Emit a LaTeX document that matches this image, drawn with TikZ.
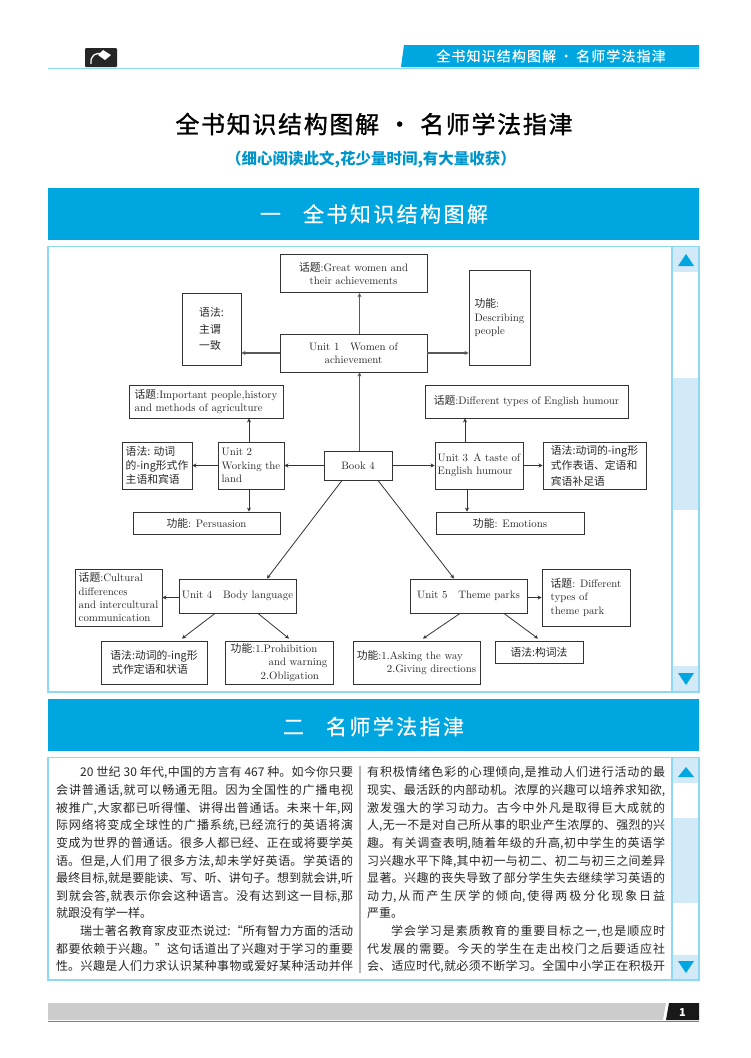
\documentclass[tikz,border=0pt]{standalone}
\usepackage{fontspec}
\usepackage{tikz}
\usetikzlibrary{arrows.meta,positioning}
\newfontfamily\zh{Noto Sans CJK SC}
\newfontfamily\zhhead[LetterSpace=8,FakeBold=0.3]{Noto Sans CJK SC}
\newfontfamily\zhbar[LetterSpace=11.5,FakeBold=0.4]{Noto Sans CJK SC}
\newfontfamily\zhtitle[LetterSpace=7,FakeBold=1.2]{Noto Sans CJK SC}
\newcommand{\zw}[1]{{\zh #1}}
\XeTeXlinebreaklocale "zh"
\XeTeXlinebreakskip=0pt plus 3pt minus 0.2pt
\definecolor{headblue}{HTML}{00A6E0}
\definecolor{rimblue}{HTML}{8FD8F4}
\definecolor{bandblue}{HTML}{D2E9F8}
\definecolor{boxgray}{HTML}{333333}

\begin{document}
\begin{tikzpicture}[
  x=1pt, y=-1pt,
  box/.style={draw=boxgray, line width=0.9pt, align=center, inner sep=0pt, font=\fontsize{10.8}{13.3}\selectfont, text=black!85},
  arr/.style={-{Stealth[length=4pt,width=4pt]}, line width=0.8pt, draw=black!80},
  arrthick/.style={arr, line width=1.1pt, draw=black!65},
  head/.style={inner sep=0pt, text=white, font=\zhbar\fontsize{21}{21}\selectfont},
  body/.style={anchor=north west, inner sep=0pt, align=justify, font=\zh\fontsize{12}{17.64}\selectfont, text=black!85},
  rim/.style={draw=rimblue, line width=1.2pt},
  band/.style={fill=bandblue, draw=none}
]
  \useasboundingbox (0,0) rectangle (750,1058);

  % page head
  \fill[headblue] (404,45) -- (699,45) -- (699,67) -- (401,67) -- cycle;
  \draw[rimblue, line width=1.2pt] (48,68.5) -- (699,68.5);
  \fill[black!85, rounded corners=1pt] (85,48) rectangle (117,67);
  \draw[white, line width=1.3pt] (91,64) .. controls (90,55) and (96,52) .. (103,54);
  \fill[white] (98,55) -- (103,50) -- (111,55) -- (105,60) -- cycle;
  \node[inner sep=0pt, text=white, font=\zhhead\fontsize{14}{14}\selectfont] (tabtext) at (551,56) {全书知识结构图解\hspace{3pt}·\hspace{3pt}名师学法指津};
  \node[inner sep=0pt, font=\zhtitle\fontsize{24}{24}\selectfont] (title) at (374,124) {全书知识结构图解\hspace{8.5pt}·\hspace{8.5pt}名师学法指津};
  \node[inner sep=0pt, text=headblue!90!black, font=\zh\bfseries\fontsize{15.5}{16}\selectfont] (subtitle) at (371,160) {（细心阅读此文,花少量时间,有大量收获）};

  % section bars
  \fill[headblue] (48,188) rectangle (699,240);
  \fill[headblue] (48,699) rectangle (699,751);
  \node[head] (sectone) at (374,214) {一\hspace{22pt}全书知识结构图解};
  \node[head] (secttwo) at (373.5,726.5) {二\hspace{22pt}名师学法指津};

  % panels and scroll bars
  \fill[band] (672,246) rectangle (699,272);
  \fill[band] (672,378) rectangle (699,510);
  \fill[band] (672,666) rectangle (699,692);
  \fill[band] (672,757) rectangle (699,783);
  \fill[band] (672,818) rectangle (699,903);
  \fill[band] (672,955) rectangle (699,980);
  \draw[rim] (48,246.5) rectangle (699,692);
  \draw[rim] (48,757.5) rectangle (699,980);
  \draw[rim] (672,246.5) -- (672,692);
  \draw[rim] (672,757.5) -- (672,980);
  \foreach \ytop/\ybot in {254/266, 767/777}
    \fill[headblue] (678,\ybot) -- (694,\ybot) -- (686,\ytop) -- cycle;
  \foreach \ytop/\ybot in {673/685, 961/973}
    \fill[headblue] (678,\ytop) -- (694,\ytop) -- (686,\ybot) -- cycle;

  % units
  \node[box, minimum width=68pt, minimum height=29pt] (book) at (358,465.5) {Book 4};
  \node[box, minimum width=147pt, minimum height=38pt] (unitone) at (353.5,353) {Unit 1\quad Women of\\achievement};
  \node[box, minimum width=66pt, minimum height=47pt, align=left] (unittwo) at (251,465.5) {Unit 2\\Working the\\land};
  \node[box, minimum width=88pt, minimum height=47pt, align=left] (unitthree) at (479,465.5) {Unit 3\enspace A taste of\\English humour};
  \node[box, minimum width=117pt, minimum height=34pt] (unitfour) at (237.5,596) {Unit 4\quad Body language};
  \node[box, minimum width=117pt, minimum height=34pt] (unitfive) at (468.5,596) {Unit 5\quad Theme parks};

  % unit 1
  \node[box, minimum width=147pt, minimum height=38.5pt] (topicone) at (353.5,273.5) {\zw{话题}:Great women and\\their achievements};
  \node[box, minimum width=59pt, minimum height=72pt, align=left, font=\zh\fontsize{10.8}{16.7}\selectfont] (gramone) at (211.5,329) {语法:\\主谓\\一致};
  \node[box, minimum width=61pt, minimum height=95pt, align=left] (funcone) at (499.5,317.5) {\zw{功能}:\\Describing\\people};
  % unit 2
  \node[box, minimum width=154pt, minimum height=33pt, align=left] (topictwo) at (206,401.5) {\zw{话题}:Important people,history\\and methods of agriculture};
  \node[box, minimum width=70pt, minimum height=47pt, align=left, font=\zh\fontsize{10.8}{14.2}\selectfont] (gramtwo) at (157,465.5) {语法: 动词\\的-ing形式作\\主语和宾语};
  \node[box, minimum width=147pt, minimum height=22pt] (functwo) at (206.5,523) {\zw{功能}: Persuasion};
  % unit 3
  \node[box, minimum width=203pt, minimum height=33pt] (topicthree) at (526.5,401.5) {\zw{话题}:Different types of English humour};
  \node[box, minimum width=103pt, minimum height=47pt, align=left, font=\zh\fontsize{10.8}{15.6}\selectfont] (gramthree) at (594.5,465.5) {语法:动词的-ing形\\式作表语、定语和\\宾语补足语};
  \node[box, minimum width=148pt, minimum height=22pt] (functhree) at (510,523) {\zw{功能}: Emotions};
  % unit 4
  \node[box, minimum width=87pt, minimum height=57pt, align=left] (topicfour) at (118.5,597.5) {\zw{话题}:Cultural\\differences\\and intercultural\\communication};
  \node[box, minimum width=106pt, minimum height=43pt, align=left, font=\zh\fontsize{10.8}{14}\selectfont] (gramfour) at (154,662.5) {语法:动词的-ing形\\\,式作定语和状语};
  \node[box, minimum width=108pt, minimum height=43pt, align=left] (funcfour) at (279,662.5) {\zw{功能}:1.Prohibition\\\hspace{38pt}and warning\\\hspace{30pt}2.Obligation};
  % unit 5
  \node[box, minimum width=88pt, minimum height=57pt, align=left] (topicfive) at (586,597.5) {\zw{话题}: Different\\types of\\theme park};
  \node[box, minimum width=127pt, minimum height=43pt, align=left] (funcfive) at (416.5,662.5) {\zw{功能}:1.Asking the way\\\hspace{30pt}2.Giving directions};
  \node[box, minimum width=88pt, minimum height=22pt, font=\zh\fontsize{10.8}{13}\selectfont] (gramfive) at (539,652) {语法:构词法};

  % connectors
  \draw[arrthick] ([xshift=1.5pt]book.north) -- ([xshift=1.5pt]book.north |- unitone.south);
  \draw[arrthick] ([xshift=1.5pt]book.north |- unitone.north) -- ([xshift=1.5pt]book.north |- topicone.south);
  \draw[arrthick] (unitone.west) -- (gramone.east |- unitone.west);
  \draw[arrthick] (unitone.east) -- (funcone.west |- unitone.east);
  \draw[arr] (book.west) -- (unittwo.east);
  \draw[arr] (book.east) -- (unitthree.west);
  \draw[arr] ([xshift=-2pt]unittwo.north) -- ([xshift=-2pt]unittwo.north |- topictwo.south);
  \draw[arr] (unittwo.west) -- (gramtwo.east);
  \draw[arr] ([xshift=-2pt]unittwo.south) -- ([xshift=-2pt]unittwo.south |- functwo.north);
  \draw[arr] ([xshift=-14pt]unitthree.north) -- ([xshift=-14pt]unitthree.north |- topicthree.south);
  \draw[arr] (unitthree.east) -- (gramthree.west);
  \draw[arr] ([xshift=-12pt]unitthree.south) -- ([xshift=-12pt]unitthree.south |- functhree.north);
  \draw[arr] ([xshift=-16pt]book.south) -- ([xshift=29.5pt]unitfour.north);
  \draw[arr] ([xshift=20pt]book.south) -- ([xshift=-14.5pt]unitfive.north);
  \draw[arr] (unitfour.west |- topicfour.east) -- (topicfour.east);
  \draw[arr] (unitfive.east |- topicfive.west) -- (topicfive.west);
  \draw[arr] ([xshift=-22.5pt]unitfour.south) -- ([xshift=28pt,yshift=2pt]gramfour.north);
  \draw[arr] ([xshift=20.5pt]unitfour.south) -- ([xshift=10pt,yshift=2pt]funcfour.north);
  \draw[arr] ([xshift=-8.5pt]unitfive.south) -- ([xshift=6.5pt,yshift=2pt]funcfive.north);
  \draw[arr] ([xshift=35.5pt]unitfive.south) -- ([xshift=-1pt,yshift=2pt]gramfive.north);

  % reading text
  \node[body, text width=297pt] (textleft) at (56,766.5) {\hspace*{24pt}20 世纪 30 年代,中国的方言有 467 种。如今你只要\linebreak
会讲普通话,就可以畅通无阻。因为全国性的广播电视\linebreak
被推广,大家都已听得懂、讲得出普通话。未来十年,网\linebreak
际网络将变成全球性的广播系统,已经流行的英语将演\linebreak
变成为世界的普通话。很多人都已经、正在或将要学英\linebreak
语。但是,人们用了很多方法,却未学好英语。学英语的\linebreak
最终目标,就是要能读、写、听、讲句子。想到就会讲,听\linebreak
到就会答,就表示你会这种语言。没有达到这一目标,那\linebreak
就跟没有学一样。\newline
\hspace*{24pt}瑞士著名教育家皮亚杰说过:“所有智力方面的活动\linebreak
都要依赖于兴趣。”这句话道出了兴趣对于学习的重要\linebreak
性。兴趣是人们力求认识某种事物或爱好某种活动并伴\parfillskip=0pt\par};
  \node[body, text width=298pt] (textright) at (367,766.5) {有积极情绪色彩的心理倾向,是推动人们进行活动的最\linebreak
现实、最活跃的内部动机。浓厚的兴趣可以培养求知欲,\linebreak
激发强大的学习动力。古今中外凡是取得巨大成就的\linebreak
人,无一不是对自己所从事的职业产生浓厚的、强烈的兴\linebreak
趣。有关调查表明,随着年级的升高,初中学生的英语学\linebreak
习兴趣水平下降,其中初一与初二、初二与初三之间差异\linebreak
显著。兴趣的丧失导致了部分学生失去继续学习英语的\linebreak
动力,从而产生厌学的倾向,使得两极分化现象日益\linebreak
严重。\newline
\hspace*{24pt}学会学习是素质教育的重要目标之一,也是顺应时\linebreak
代发展的需要。今天的学生在走出校门之后要适应社\linebreak
会、适应时代,就必须不断学习。全国中小学正在积极开\parfillskip=0pt\par};
  \draw[black!30, line width=1.2pt] (360,766) -- (360,973);

  % page foot
  \fill[black!20] (48,1003) -- (666,1003) -- (663,1020) -- (48,1020) -- cycle;
  \fill[black!90] (669,1003) -- (699,1003) -- (699,1020) -- (666,1020) -- cycle;
  \draw[black!50, line width=1.3pt] (48,1021.5) -- (699,1021.5);
  \node[inner sep=0pt, text=white, font=\zh\bfseries\fontsize{11}{11}\selectfont] (pageno) at (682.5,1012) {1};
\end{tikzpicture}
\end{document}
